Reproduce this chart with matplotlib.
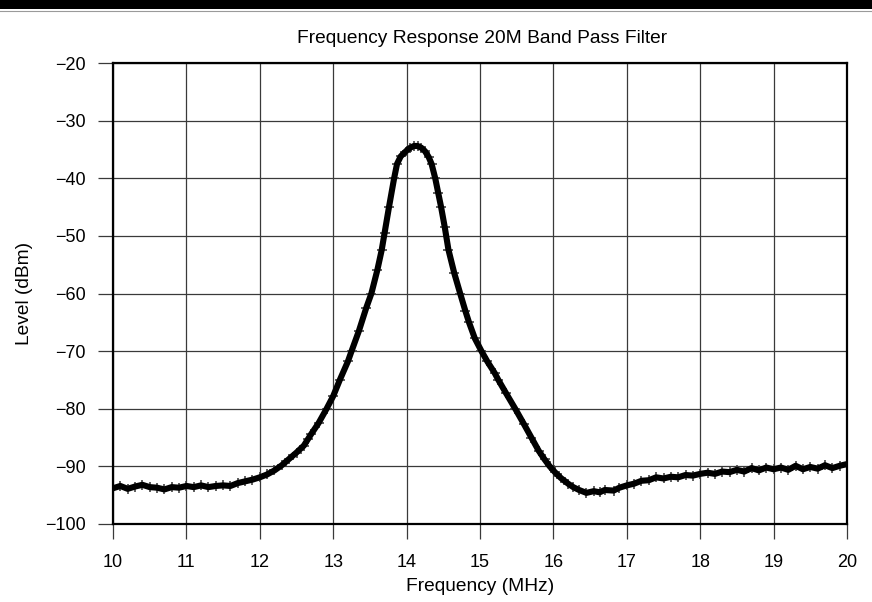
import matplotlib
matplotlib.use("Agg")
import matplotlib.pyplot as plt
from matplotlib.patches import Rectangle
from matplotlib.lines import Line2D

plt.rcParams['font.family'] = ['Liberation Sans', 'DejaVu Sans']

# Measured sweep of the 20 m band pass filter
freq_mhz = [
    10.00, 10.10, 10.20, 10.30, 10.40, 10.50, 10.60, 10.70, 10.80, 10.90,
    11.00, 11.10, 11.20, 11.30, 11.40, 11.50, 11.60, 11.70, 11.80, 11.90,
    12.00, 12.10, 12.20, 12.30, 12.40, 12.50, 12.60, 12.66, 12.70, 12.80,
    12.91, 13.00, 13.09, 13.20, 13.25, 13.35, 13.45, 13.52, 13.60, 13.66,
    13.70, 13.76, 13.83, 13.87, 13.92, 14.00, 14.05, 14.10, 14.15, 14.20,
    14.25, 14.30, 14.34, 14.39, 14.43, 14.47, 14.52, 14.57, 14.65, 14.73,
    14.80, 14.85, 14.93, 15.02, 15.10, 15.20, 15.25, 15.35, 15.48, 15.60,
    15.70, 15.80, 15.88, 15.95, 16.02, 16.10, 16.20, 16.27, 16.35, 16.45,
    16.55, 16.63, 16.70, 16.82, 16.90, 17.00, 17.10, 17.20, 17.30, 17.40,
    17.50, 17.60, 17.70, 17.80, 17.90, 18.00, 18.10, 18.20, 18.30, 18.40,
    18.50, 18.60, 18.70, 18.80, 18.90, 19.00, 19.10, 19.20, 19.30, 19.40,
    19.50, 19.60, 19.70, 19.80, 19.90, 20.00,
]
level_dbm = [
    -93.8, -93.4, -93.9, -93.5, -93.2, -93.6, -93.7, -94.0, -93.6, -93.7,
    -93.4, -93.6, -93.3, -93.6, -93.4, -93.3, -93.4, -92.9, -92.6, -92.3,
    -91.9, -91.4, -90.7, -89.8, -88.7, -87.6, -86.4, -85.2, -84.4, -82.5,
    -80.0, -77.8, -75.0, -71.8, -70.0, -66.5, -62.5, -60.0, -56.0, -52.5,
    -49.5, -45.0, -40.0, -37.5, -36.2, -35.2, -34.7, -34.4, -34.4, -34.7,
    -35.3, -36.3, -37.5, -40.0, -42.5, -45.0, -48.5, -52.4, -56.5, -60.0,
    -63.0, -65.0, -67.8, -70.0, -71.8, -73.8, -75.0, -77.2, -80.0, -82.7,
    -85.0, -87.3, -88.8, -90.0, -91.0, -92.0, -93.0, -93.6, -94.1, -94.6,
    -94.3, -94.5, -94.1, -94.2, -93.7, -93.3, -93.0, -92.5, -92.4, -91.9,
    -92.1, -91.8, -91.9, -91.5, -91.6, -91.3, -91.1, -91.3, -90.9, -91.0,
    -90.6, -90.9, -90.3, -90.7, -90.2, -90.5, -90.2, -90.6, -89.9, -90.5,
    -90.1, -90.4, -89.8, -90.3, -89.9, -89.6,
]

x_ticks = [10, 11, 12, 13, 14, 15, 16, 17, 18, 19, 20]
y_ticks = [-20, -30, -40, -50, -60, -70, -80, -90, -100]
y_tick_labels = ["\u221220", "\u221230", "\u221240", "\u221250", "\u221260",
                 "\u221270", "\u221280", "\u221290", "\u2212100"]

W, H = 872, 602
fig = plt.figure(figsize=(W / 100, H / 100), dpi=100)

# heavy rule across the top of the page
fig.patches.append(Rectangle((0, 1 - 9 / H), 1, 9 / H, transform=fig.transFigure,
                             facecolor="black", edgecolor="none"))
fig.lines.append(Line2D([0, 1], [1 - 10.5 / H, 1 - 10.5 / H], transform=fig.transFigure,
                        color="#9a9a9a", lw=0.8))

ax = fig.add_axes([113 / W, 1 - 524 / H, (847 - 113) / W, (524 - 63) / H])

ax.plot(freq_mhz, level_dbm, color="black", lw=4.4, solid_joinstyle="round",
        solid_capstyle="round", zorder=3)
ax.plot(freq_mhz, level_dbm, ls="none", marker="+", ms=6.5, mew=1.2,
        color="#444444", zorder=2)

ax.set_xlim(10, 20)
ax.set_ylim(-100, -20)
ax.set_xticks(x_ticks)
ax.set_xticklabels([str(t) for t in x_ticks])
ax.set_yticks(y_ticks)
ax.set_yticklabels(y_tick_labels)

ax.grid(True, color="#3a3a3a", lw=0.9)
ax.set_axisbelow(True)
for s in ax.spines.values():
    s.set_color("black")
    s.set_linewidth(1.6)

ax.tick_params(axis="both", direction="out", length=10.5, width=0.9,
               color="#3a3a3a", labelsize=13, labelcolor="black", pad=9)
ax.tick_params(axis="x", pad=11)

ax.set_xlabel("Frequency (MHz)", fontsize=13.8, labelpad=5)
ax.set_ylabel("Level (dBm)", fontsize=13.8, labelpad=9)

fig.text(482 / W, 1 - 43 / H, "Frequency Response 20M Band Pass Filter",
         ha="center", va="baseline", fontsize=13.8)

fig.savefig("out.png", dpi=100)
